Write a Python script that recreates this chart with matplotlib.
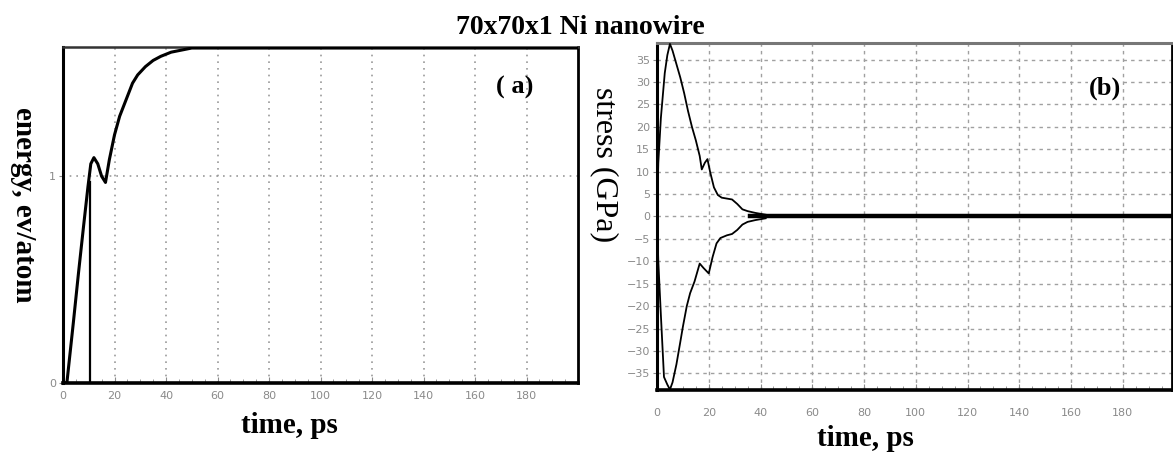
import numpy as np
import matplotlib
matplotlib.use("Agg")
import matplotlib.pyplot as plt
from matplotlib.ticker import MultipleLocator

# ---- dati ----
# (a) energia [eV/atom] vs tempo [ps]
energy_t = [0, 1.5, 4, 6, 8, 9.7, 10.8, 12, 13.5, 15, 16.5, 18, 20, 22, 24.5, 27, 29, 32, 35, 38, 42, 46, 50, 55, 200]
energy_e = [0, 0, 0.29, 0.53, 0.76, 0.95, 1.06, 1.09, 1.06, 1.0, 0.97, 1.08, 1.2, 1.29, 1.37, 1.45, 1.49, 1.53, 1.56, 1.58, 1.60, 1.61, 1.62, 1.62, 1.62]
vline_t = [10.6, 10.6]
vline_e = [0, 0.97]

# (b) stress [GPa] vs tempo [ps], inviluppo superiore e inferiore
up_t = [0, 0.5, 1.5, 3, 4, 5, 6, 7.5, 9, 10.5, 12, 13.5, 15, 16.5, 17.3, 18.5, 19.5, 20.5, 22, 23.5, 25, 27, 29, 31, 33, 35, 38, 42]
up_s = [0, 12, 22, 32, 36, 38.5, 37, 34, 31, 27.5, 23.5, 20, 17, 13.5, 10.5, 12, 12.8, 10, 6.5, 4.8, 4.2, 4.0, 3.8, 2.8, 1.6, 1.2, 0.8, 0.4]
lo_t = [0, 0.5, 1.5, 2.7, 4, 5, 6, 7.5, 9, 10, 11.5, 12.8, 14.5, 16.5, 18, 20, 21.5, 23, 24.5, 27, 29, 31, 33, 35, 38, 42]
lo_s = [0, -10, -22, -35.8, -37.5, -38.6, -37, -33, -28, -24.6, -20, -17.1, -14.5, -10.5, -11.5, -12.7, -9, -6, -4.8, -4.2, -3.9, -3.0, -1.8, -1.2, -0.8, -0.4]
# banda di rumore attorno a zero
noise_t = [36, 200]
noise_s = [0, 0]

x_ticks = [0, 20, 40, 60, 80, 100, 120, 140, 160, 180]
stress_ticks = list(range(-35, 40, 5))

serif = "Liberation Serif"
tick_col = "#8a8a8a"

fig = plt.figure(figsize=(11.73, 4.59), dpi=100)

ax1 = fig.add_axes([63/1173, 1 - 383/459, 515/1173, 336/459])
ax2 = fig.add_axes([657/1173, 1 - 390/459, 515/1173, 347/459])

# ---- pannello (a) ----
ax1.plot(energy_t, energy_e, color="black", linewidth=2.2, zorder=3)
ax1.plot(vline_t, vline_e, color="black", linewidth=1.6, zorder=3)
ax1.set_xlim(0, 200)
ax1.set_ylim(0, 1.625)
ax1.set_xticks(x_ticks)
ax1.set_yticks([0, 1])
ax1.grid(True, linestyle=(0, (1, 3)), color="#999999", linewidth=1.2)

# ---- pannello (b) ----
ax2.plot(up_t, up_s, color="black", linewidth=1.3, zorder=3)
ax2.plot(lo_t, lo_s, color="black", linewidth=1.3, zorder=3)
ax2.plot(noise_t, noise_s, color="black", linewidth=3.2, zorder=3)
ax2.set_xlim(0, 199)
ax2.set_ylim(-38.7, 38.7)
ax2.set_xticks(x_ticks)
ax2.set_yticks(stress_ticks)
ax2.grid(True, linestyle=(0, (2.5, 3)), color="#a0a0a0", linewidth=1.0)

for ax in (ax1, ax2):
    ax.set_axisbelow(True)
    ax.xaxis.set_minor_locator(MultipleLocator(5))
    ax.tick_params(axis="x", which="major", direction="in", length=4, color=tick_col,
                   labelsize=8, labelcolor=tick_col, pad=6)
    ax.tick_params(axis="x", which="minor", direction="in", length=3, color=tick_col)
    ax.tick_params(axis="y", direction="out", length=3, color=tick_col,
                   labelsize=8, labelcolor=tick_col, pad=2)
    ax.spines["left"].set_linewidth(2.2)
    ax.spines["bottom"].set_linewidth(2.6)
    ax.spines["right"].set_linewidth(2.0)
    ax.set_xlabel("time, ps", fontfamily=serif, fontweight="bold", fontsize=21)

ax2.tick_params(axis="x", which="major", pad=13)

ax1.spines["top"].set_linewidth(1.8)
ax1.spines["top"].set_color("#333333")
ax2.spines["top"].set_linewidth(2.2)
ax2.spines["top"].set_color("#777777")

ax1.xaxis.set_label_coords(0.44, -0.085)
ax2.xaxis.set_label_coords(0.404, -0.102)

ax1.set_ylabel("energy, ev/atom", fontfamily=serif, fontweight="bold", fontsize=21,
               rotation=270, va="center", ha="center")
ax1.yaxis.set_label_coords(-0.076, 0.53)
ax2.set_ylabel("stress (GPa)", fontfamily=serif, fontsize=23,
               rotation=270, va="center", ha="center")
ax2.yaxis.set_label_coords(-0.103, 0.651)

ax1.text(0.878, 0.881, "( a)", transform=ax1.transAxes, fontfamily=serif,
         fontweight="bold", fontsize=19, ha="center", va="center")
ax2.text(0.87, 0.87, "(b)", transform=ax2.transAxes, fontfamily=serif,
         fontweight="bold", fontsize=19, ha="center", va="center",
         bbox=dict(facecolor="white", edgecolor="none", pad=0.5))

fig.text(580/1173, 1 - 28/459, "70x70x1 Ni nanowire", fontfamily=serif,
         fontweight="bold", fontsize=20, ha="center", va="center")

fig.savefig("out.png", dpi=100)
